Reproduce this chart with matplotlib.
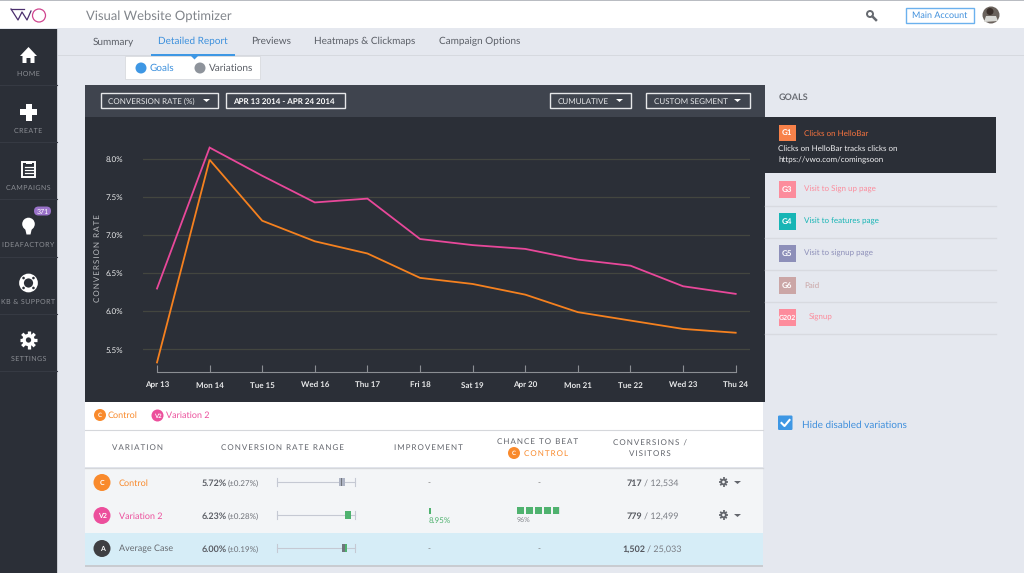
import numpy as np
import matplotlib
matplotlib.use("Agg")
import matplotlib.pyplot as plt
from matplotlib.patches import Rectangle, Circle, Polygon, FancyBboxPatch

plt.rcParams["text.hinting"] = "no_hinting"
plt.rcParams["text.hinting_factor"] = 1

W, H = 1024, 573
FONT = ["Lato", "DejaVu Sans"]
HAIR = "\u200a"

# chart data
dates = ["Apr 13", "Mon 14", "Tue 15", "Wed 16", "Thu 17", "Fri 18",
         "Sat 19", "Apr 20", "Mon 21", "Tue 22", "Wed 23", "Thu 24"]
control = [5.33, 7.99, 7.19, 6.92, 6.76, 6.44, 6.36, 6.22, 5.99, 5.88, 5.77, 5.72]
variation2 = [6.30, 8.15, 7.78, 7.43, 7.48, 6.95, 6.87, 6.82, 6.68, 6.60, 6.33, 6.23]
y_ticks = [5.5, 6.0, 6.5, 7.0, 7.5, 8.0]

# table data
row_rates = [5.72, 6.23, 6.00]
row_errs = ["(±0.27%)", "(±0.28%)", "(±0.19%)"]
row_names = ["Control", "Variation 2", "Average Case"]
row_badges = ["C", "V2", "A"]
row_conv = ["717", "779", "1,502"]
row_vis = ["12,534", "12,499", "25,033"]
chance_pct = 96
improvement_pct = 8.95

# side menu / goals
menu_items = ["HOME", "CREATE", "CAMPAIGNS", "IDEAFACTORY", "KB & SUPPORT", "SETTINGS"]
tabs = ["Summary", "Detailed Report", "Previews", "Heatmaps & Clickmaps", "Campaign Options"]
goal_ids = ["G3", "G4", "G5", "G6", "G202"]
goal_names = ["Visit to Sign up page", "Visit to features page", "Visit to signup page", "Paid", "Signup"]
goal_cols = ["#fc8c9c", "#17b5b5", "#8d8fb9", "#cba6a6", "#fd8c9c"]

ORANGE = "#f98a2c"
PINK = "#ec4f9c"
DARK = "#2b2f37"
BG = "#e5e8ef"
GREEN = "#4fb26f"

fig = plt.figure(figsize=(W / 100, H / 100), dpi=100, facecolor=BG)
ui = fig.add_axes([0, 0, 1, 1])
ui.set_xlim(0, W)
ui.set_ylim(H, 0)
ui.axis("off")


def rect(x0, y0, x1, y1, fc, ec="none", lw=0, z=1):
    ui.add_patch(Rectangle((x0, y0), x1 - x0, y1 - y0, fc=fc, ec=ec, lw=lw, zorder=z))


def txt(x, y, s, size=6.5, color="#555", ha="left", weight="normal", z=6):
    # baseline placement, so words with and without descenders line up
    ui.text(x, y + 0.36 * size * 100 / 72, s, fontsize=size, color=color, ha=ha, va="baseline",
            family=FONT, fontweight=weight, zorder=z)


def tracked(s, n=1):
    return (HAIR * n).join(s)


def badge(x, y, r, label, fc, size=5.5):
    ui.add_patch(Circle((x, y), r, fc=fc, ec="none", zorder=5))
    txt(x, y, label, size=size, color="white", ha="center", weight="bold")


def gear(x, y, r, color, bg, z=5):
    for a in np.arange(0, 180, 45):
        ui.plot([x - r * np.cos(np.radians(a)), x + r * np.cos(np.radians(a))],
                [y - r * np.sin(np.radians(a)), y + r * np.sin(np.radians(a))],
                color=color, lw=r * 0.27, solid_capstyle="butt", zorder=z)
    ui.add_patch(Circle((x, y), r * 0.7, fc=color, ec="none", zorder=z))
    ui.add_patch(Circle((x, y), r * 0.3, fc=bg, ec="none", zorder=z + 1))


def caret(x, y, color="white", w=3.5, h=3):
    ui.add_patch(Polygon([(x - w, y - h / 2), (x + w, y - h / 2), (x, y + h / 2)],
                         fc=color, ec="none", zorder=6))


# top bar
rect(0, 0, W, 28, "white")
rect(0, 0, W, 1, "#b9bcc2", z=2)
ui.plot([11, 18, 22, 27, 31], [9, 20, 12, 20, 11], color="#4b2f6e", lw=0.9, zorder=3)
ui.plot([11, 24], [9, 9], color="#4b2f6e", lw=0.9, zorder=3)
ui.add_patch(Circle((39, 15.5), 6.5, fc="none", ec="#d0458f", lw=0.9, zorder=3))
txt(85.5, 15, "Visual Website Optimizer", size=9.0, color="#81858b")
ui.add_patch(Circle((870, 14), 3, fc="none", ec="#666a70", lw=1.4, zorder=3))
ui.plot([872.5, 876], [16.5, 20], color="#666a70", lw=1.8, zorder=3)
rect(905.5, 7.5, 974, 22.5, "white", ec="#6bb1ee", lw=1.0)
txt(940, 15, "Main Account", size=6.4, color="#3f8fdc", ha="center")
ui.add_patch(Circle((991, 15), 8.5, fc="#6a625c", ec="none", zorder=3))
ui.add_patch(Circle((990, 11.5), 3.5, fc="#3a2f2a", ec="none", zorder=4))
ui.add_patch(Polygon([(984, 22), (986, 16), (996, 16), (998, 21)], fc="#d8d8d4", ec="none", zorder=4))

# side menu
rect(0, 29, 57, H, DARK)
rect(57, 29, 58, H, "#c9ccd2")
for y in [85, 142, 199, 257, 314, 371]:
    ui.plot([0, 57], [y, y], color="#363a43", lw=0.8, zorder=2)
menu_y = [73.5, 130.5, 187.5, 245, 301.5, 358.5]
for label, y in zip(menu_items, menu_y):
    txt(28.5, y, tracked(label), size=4.8, color="#8b8e94", ha="center")
# home
ui.add_patch(Polygon([(20, 56), (28.5, 47), (37, 56), (34.5, 56), (34.5, 63), (30.5, 63), (30.5, 58),
                      (26.5, 58), (26.5, 63), (22.5, 63), (22.5, 56)], fc="white", ec="none", zorder=4))
# plus
rect(20, 109, 37, 115, "white", z=4)
rect(25.5, 103.5, 31.5, 121, "white", z=4)
# clipboard
rect(22, 162, 35, 177, DARK, ec="white", lw=1.4, z=4)
rect(25.5, 160.5, 31.5, 164, "white", z=5)
for yy in [167, 170, 173]:
    ui.plot([24.5, 32.5], [yy, yy], color="white", lw=0.9, zorder=5)
# bulb
ui.add_patch(Circle((28.5, 224), 6.3, fc="white", ec="none", zorder=4))
ui.add_patch(Polygon([(25, 228), (32, 228), (30.5, 234.5), (26.5, 234.5)], fc="white", ec="none", zorder=4))
ui.add_patch(FancyBboxPatch((34, 206.5), 17, 9, boxstyle="round,pad=0,rounding_size=4.5",
                            fc="#9a72c9", ec="none", zorder=5))
txt(42.5, 211, "371", size=5.2, color="white", ha="center")
# life ring
ui.add_patch(Circle((28.5, 283), 7, fc="none", ec="white", lw=3.4, zorder=4))
for a in [45, 135, 225, 315]:
    ui.add_patch(Circle((28.5 + 7 * np.cos(np.radians(a)), 283 + 7 * np.sin(np.radians(a))), 1.3,
                        fc=DARK, ec="none", zorder=5))
gear(28.5, 340, 8.8, "white", DARK)

# tabs row
rect(58, 28, W, 54.5, BG)
rect(58, 54.5, W, 56, "#d6d9df", z=2)
tab_x = [93, 158, 251, 314, 439]
for label, x in zip(tabs, tab_x):
    active = label == "Detailed Report"
    txt(x, 40.5, label, size=7.2, color="#3c90dd" if active else "#5a5e66")
rect(151, 53.5, 234.5, 55.5, "#3e97e4", z=3)
ui.add_patch(Polygon([(190, 55), (199, 55), (194.5, 59.5)], fc="#3e97e4", ec="none", zorder=7))

# goals/variations popup
rect(125, 56, 260, 79, "white", ec="#d8dade", lw=0.6, z=3)
ui.add_patch(Circle((141, 68), 5.5, fc="#3e97e4", ec="none", zorder=5))
ui.add_patch(Circle((200, 68), 5.5, fc="#8e939b", ec="none", zorder=5))
txt(150, 67, "Goals", size=7.2, color="#3c90dd")
txt(209, 67, "Variations", size=7.2, color="#5a5e66")

# chart card
rect(85, 85, 765, 116.5, "#3f444e")
rect(85, 116.5, 765, 402, DARK)
for x0, x1, label, x_txt, fs, bold in [(100.5, 218, "CONVERSION RATE (%)", 108.5, 6.1, False),
                                       (226, 345, "APR 13 2014 - APR 24 2014", 233, 6.0, True),
                                       (550, 631, "CUMULATIVE", 558, 5.9, False),
                                       (646, 749.5, "CUSTOM SEGMENT", 654, 5.9, False)]:
    rect(x0, 92.5, x1, 108, "none", ec="#e6e7e9", lw=1.0, z=3)
    txt(x_txt, 100.5, label, size=fs, color="white" if bold else "#e6e7e9",
        weight="bold" if bold else "normal")
for x in [206.5, 619.5, 737.5]:
    caret(x, 100.5)

# the actual chart, axes mapped so that grid and ticks sit on the picture's pixels
left, right = 143, 750
bottom, top = 372, 117
ax = fig.add_axes([left / W, 1 - bottom / H, (right - left) / W, (bottom - top) / H])
ax.patch.set_alpha(0)
px_x = np.arange(len(dates))
step = (735.7 - 157) / (len(dates) - 1)
ax.set_xlim((left - 157) / step, (right - 157) / step)
per_pct = (349.5 - 159) / 2.5
ax.set_ylim(8.0 - (bottom - 159) / per_pct, 8.0 + (159 - top) / per_pct)
ax.set_yticks(y_ticks, [f"{v:.1f}%" for v in y_ticks])
ax.set_xticks(px_x, dates)
ax.grid(axis="y", color="#43463f", lw=0.9)
ax.set_axisbelow(True)
ax.plot(px_x, control, color="#f5811f", lw=1.3, zorder=3, solid_joinstyle="miter")
ax.plot(px_x, variation2, color="#e8489a", lw=1.3, zorder=3, solid_joinstyle="miter")
for side in ["top", "left", "right"]:
    ax.spines[side].set_visible(False)
ax.spines["bottom"].set_color("#8b8e93")
ax.spines["bottom"].set_bounds(0, len(dates) - 1)
ax.tick_params(axis="y", length=0, pad=14, labelsize=5.9, labelcolor="#e8e9ea")
ax.tick_params(axis="x", length=5, width=0.8, color="#8b8e93", direction="in", pad=7,
               labelsize=5.6, labelcolor="#e8e9ea", top=False)
for t in ax.get_yticklabels():
    t.set_family(FONT)
for t in ax.get_xticklabels():
    t.set_family(FONT)
    t.set_fontweight("bold")
ui.text(97.5, 258, tracked("CONVERSION RATE", 2), fontsize=6.0, color="#b9bbbf", ha="center", va="center",
        rotation=90, family=FONT, zorder=6)

# legend row
rect(85, 402, 763, 430, "white")
badge(100, 415, 6, "C", ORANGE, size=4.5)
badge(157.5, 415.5, 6, "V2", PINK, size=4.0)
txt(108, 415, "Control", size=6.6, color=ORANGE)
txt(165.5, 415, "Variation 2", size=6.6, color=PINK)

# table header
rect(85, 430, 763, 467, "white")
ui.plot([85, 763], [429.5, 429.5], color="#d5d7db", lw=0.8, zorder=2)
ui.plot([85, 763], [467.5, 467.5], color="#d5d7db", lw=1.0, zorder=2)
hdr = "#62656c"
txt(137.5, 447, tracked("VARIATION", 2), size=5.8, color=hdr, ha="center")
txt(282, 447, tracked("CONVERSION RATE RANGE", 2), size=6.0, color=hdr, ha="center")
txt(428, 447, tracked("IMPROVEMENT", 2), size=6.0, color=hdr, ha="center")
txt(538, 441, tracked("CHANCE TO BEAT", 2), size=6.0, color=hdr, ha="center")
badge(514, 453, 6, "C", ORANGE, size=4.5)
txt(546, 453, tracked("CONTROL", 2), size=6.0, color=ORANGE, ha="center")
txt(650, 442.5, tracked("CONVERSIONS /", 2), size=6.0, color=hdr, ha="center")
txt(650, 452.5, tracked("VISITORS", 2), size=6.0, color=hdr, ha="center")

# table rows
rect(85, 468, 763, 533, "#f3f5f7")
rect(85, 533, 763, 564.5, "#d6edf7")
rect(85, 564.5, 763, 567, "#c9ccd1")
row_y = [482.5, 515.5, 548.5]
row_cols = [ORANGE, PINK, "#3f3f42"]
name_cols = [ORANGE, PINK, "#666a70"]
bar_cols = ["#aeb4c4", GREEN, GREEN]
conv_right = [642, 642, 645.5]
RATE_SCALE = 11.8  # px per percentage point on the small range plots
for i, y in enumerate(row_y):
    badge(102, y, 8.5, row_badges[i], row_cols[i], size=5.2)
    txt(119, y, row_names[i], size=6.5, color=name_cols[i])
    txt(202, y, f"{row_rates[i]:.2f}%", size=6.5, color="#5c5f66", weight="bold")
    txt(228, y, row_errs[i], size=5.8, color="#6e7178")
    yy = y - 1
    ui.plot([276.5, 354.5], [yy, yy], color="#c5c9d3", lw=0.8, zorder=3)
    ui.plot([276.5, 276.5], [yy - 4, yy + 4], color="#c5c9d3", lw=0.8, zorder=3)
    ui.plot([354.5, 354.5], [yy - 4, yy + 4], color="#c5c9d3", lw=0.8, zorder=3)
    cx = 342 + (row_rates[i] - row_rates[0]) * RATE_SCALE
    bw = [2.7, 2.9, 2.0][i]
    rect(cx - bw, yy - 4, cx + bw, yy + 4, bar_cols[i], z=4)
    if i == 2:
        rect(cx - bw - 0.9, yy - 4, cx - 0.3, yy + 4, "#70757c", z=5)
    if i == 0:
        rect(cx - 0.6, yy - 4, cx + 0.4, yy + 4, "#70757c", z=5)
    txt(conv_right[i], y, row_conv[i], size=6.8, color="#55585f", ha="right", weight="bold")
    txt(conv_right[i] + 1.5, y, "/ " + row_vis[i], size=6.8, color="#7a7d84")

# improvement and chance cells
for y in [482.5, 548.5]:
    txt(428.5, y, "-", size=6, color="#777", ha="center")
    txt(539, y, "-", size=6, color="#777", ha="center")
rect(428.8, 508, 430.6, 514, GREEN, z=4)
txt(429, 520, f"{improvement_pct:.2f}%", size=5.6, color=GREEN)
block_w, block_gap = 7.0, 2.0
for k in range(5):
    x0 = 517 + k * (block_w + block_gap)
    filled = min(1.0, max(0.0, (chance_pct / 20.0) - k))
    rect(x0, 506.5, x0 + block_w, 513.5, "#dfe2e5", z=3)
    rect(x0, 506.5, x0 + block_w * filled, 513.5, GREEN, z=4)
txt(517, 519.5, f"{chance_pct}%", size=5.4, color="#85888e")

# row gears
for y in [482, 515]:
    gear(723.5, y, 4.6, "#63666d", "#f3f5f7")
    caret(737.5, y + 0.5, color="#63666d", w=3.5, h=3)

# goals panel
txt(778.5, 96.5, "GOALS", size=6.3, color="#6a6d74", weight="bold")
rect(765, 117, 995.5, 173, DARK)
rect(778.5, 124.5, 796, 141, "#f8824a", z=3)
txt(787, 132.5, "G1", size=5.5, color="white", ha="center", weight="bold")
txt(804, 132.5, "Clicks on HelloBar", size=6.1, color="#f8743f")
txt(778.5, 147.5, "Clicks on HelloBar tracks clicks on", size=6.05, color="#f0f0f2")
txt(778.5, 159.5, "https://vwo.com/comingsoon", size=6.05, color="#f0f0f2")
for i, (gid, name, col) in enumerate(zip(goal_ids, goal_names, goal_cols)):
    y = 189 + i * 32
    rect(778.5, y - 8.5, 796, y + 8.5, col, z=3)
    txt(787, y, gid, size=5.5 if gid != "G202" else 4.9, color="white", ha="center", weight="bold")
    txt(804 if gid != "G202" else 809, y, name, size=6.05, color=col)
    ui.plot([765, 995.5], [y + 16.5, y + 16.5], color="#d8dae0", lw=1.0, zorder=2)

# hide disabled checkbox
ui.add_patch(FancyBboxPatch((778, 415.5), 14.5, 14.5, boxstyle="round,pad=0,rounding_size=1.2",
                            fc="#3e97e4", ec="none", zorder=3))
ui.plot([781.5, 784.5, 789.5], [423, 426, 420], color="white", lw=1.5, zorder=4)
txt(801.5, 424, "Hide disabled variations", size=7.2, color="#3f8fdc")

fig.savefig("out.png", dpi=100, facecolor=BG)
